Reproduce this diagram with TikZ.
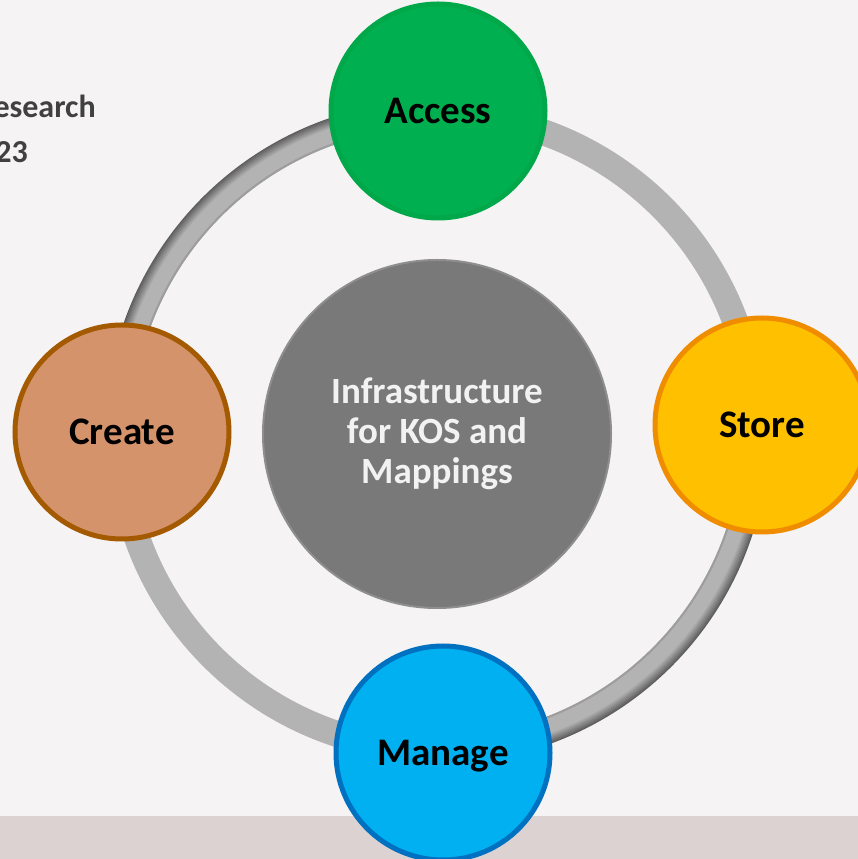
\documentclass[tikz,border=0pt]{standalone}
\usepackage{fontspec}
\setmainfont{Carlito}
\usepackage{tikz}
\definecolor{pagebg}{HTML}{F5F3F4}
\definecolor{bandbg}{HTML}{DCD2D2}
\definecolor{ringgray}{HTML}{B3B3B3}
\definecolor{ringdark}{HTML}{5C5C5C}
\definecolor{titlegray}{HTML}{404040}
\definecolor{accessfill}{HTML}{00B050}
\definecolor{accessline}{HTML}{00A84A}
\definecolor{storefill}{HTML}{FFC000}
\definecolor{storeline}{HTML}{F08C00}
\definecolor{createfill}{HTML}{D4936B}
\definecolor{createline}{HTML}{A45A00}
\definecolor{managefill}{HTML}{00B0F0}
\definecolor{manageline}{HTML}{0070C0}
\definecolor{hubfill}{HTML}{797979}
\definecolor{hubline}{HTML}{8E8E8E}
\definecolor{hubtext}{HTML}{F2F2F2}
\tikzstyle{stage} = [circle, inner sep=0pt, minimum size=214pt, line width=5pt, text=black,
    font=\fontsize{39}{42}\selectfont\bfseries, text height=30pt, text depth=5pt]
\tikzstyle{hubnode} = [circle, inner sep=0pt, minimum size=348pt, fill=hubfill, draw=hubline,
    line width=2pt, text=hubtext, align=center, font=\fontsize{37}{40}\selectfont\bfseries]
\tikzstyle{cornertext} = [inner sep=0pt, text=titlegray, font=\fontsize{32}{40}\selectfont\bfseries]
\newcommand{\flatarc}[2]{
    \draw[ringgray, line width=26pt] (hub) ++(#1:318pt) arc[start angle=#1, end angle=#2, radius=318pt];
}
\newcommand{\shadedarc}[2]{
    \flatarc{#1}{#2}
    \foreach \k in {0,...,10}{
        \pgfmathtruncatemacro{\mix}{\k*10}
        \pgfmathsetmacro{\rr}{331-\k}
        \draw[ringgray!\mix!ringdark, line width=1.3pt] (hub) ++(#1:\rr pt) arc[start angle=#1, end angle=#2, radius=\rr pt];
    }
    \draw[ringgray!75!ringdark, line width=2pt] (hub) ++(#1:306pt) arc[start angle=#1, end angle=#2, radius=306pt];
}
\begin{document}
\begin{tikzpicture}[x=1pt, y=1pt]
	\clip (0,0) rectangle (858,859);
	\fill[pagebg] (0,0) rectangle (858,859);
	\fill[bandbg] (0,0) rectangle (858,43);
	
	\node(line1) [cornertext, anchor=base east] at (96,741) {esearch};
	\node(line2) [cornertext, anchor=base east] at (28,696) {23};
	
	\coordinate (hub) at (437,427);
	\flatarc{0}{90}
	\flatarc{180}{270}
	\shadedarc{90}{180}
	\shadedarc{270}{360}
	
	\node(core) [hubnode] at (437,425) {Infrastructure\\for KOS and\\Mappings};
	
	\node(access) [stage, fill=accessfill, draw=accessline] at (438,748) {Access};
	\node(store) [stage, fill=storefill, draw=storeline] at (762,434) {Store};
	\node(create) [stage, fill=createfill, draw=createline] at (122,427) {Create};
	\node(manage) [stage, fill=managefill, draw=manageline] at (443,106) {Manage};
\end{tikzpicture}
\end{document}
